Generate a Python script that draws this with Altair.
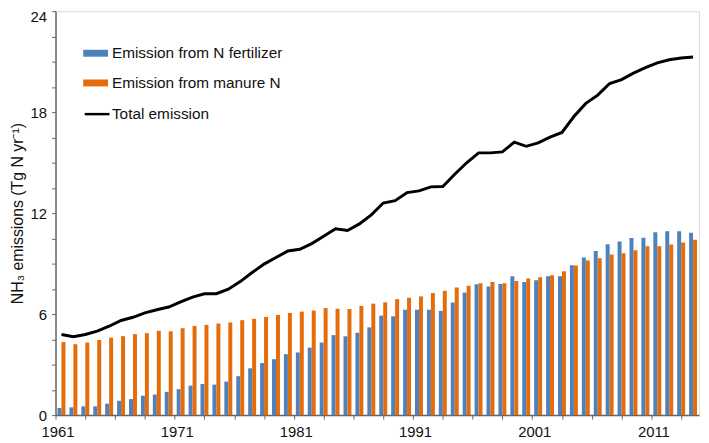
import altair as alt
import pandas as pd

years = list(range(1961, 2015))

fertilizer = [
    0.42, 0.46, 0.52, 0.52, 0.68, 0.85, 0.95, 1.15, 1.22, 1.38,
    1.54, 1.75, 1.85, 1.81, 1.99, 2.31, 2.78, 3.09, 3.32, 3.62,
    3.72, 4.01, 4.31, 4.75, 4.68, 4.89, 5.21, 5.91, 5.87, 6.26,
    6.26, 6.26, 6.19, 6.69, 7.28, 7.78, 7.64, 7.79, 8.25, 7.91,
    8.01, 8.25, 8.25, 8.91, 9.36, 9.75, 10.15, 10.31, 10.52, 10.54,
    10.87, 10.93, 10.93, 10.84,
]
manure = [
    4.34, 4.21, 4.31, 4.46, 4.60, 4.69, 4.81, 4.87, 5.01, 4.98,
    5.16, 5.30, 5.36, 5.44, 5.50, 5.64, 5.72, 5.83, 5.95, 6.07,
    6.15, 6.21, 6.36, 6.32, 6.30, 6.48, 6.62, 6.70, 6.89, 6.97,
    7.05, 7.25, 7.38, 7.58, 7.69, 7.84, 7.91, 7.83, 7.97, 8.11,
    8.19, 8.31, 8.54, 8.89, 9.19, 9.32, 9.54, 9.62, 9.79, 10.03,
    10.03, 10.13, 10.26, 10.42,
]
total = [
    4.79, 4.66, 4.79, 4.99, 5.28, 5.62, 5.81, 6.07, 6.26, 6.42,
    6.72, 7.01, 7.21, 7.21, 7.48, 7.93, 8.47, 8.97, 9.36, 9.75,
    9.85, 10.19, 10.62, 11.07, 10.97, 11.36, 11.90, 12.60, 12.74, 13.22,
    13.32, 13.56, 13.58, 14.31, 14.99, 15.58, 15.58, 15.64, 16.22, 15.97,
    16.17, 16.52, 16.79, 17.74, 18.52, 19.01, 19.70, 19.93, 20.32, 20.64,
    20.93, 21.11, 21.22, 21.28,
]

series_names = ["Emission from N fertilizer", "Emission from manure N"]
line_name = "Total emission"
bar_colors = ["#4F81BD", "#E46C0A"]

x_tick_values = [1961 + 2.5 * i for i in range(22)]
y_tick_values = [1.5 * i for i in range(17)]

bars_df = pd.DataFrame(
    {
        "year": years * 2,
        "value": fertilizer + manure,
        "series": [series_names[0]] * len(years) + [series_names[1]] * len(years),
        "slot": [0] * len(years) + [1] * len(years),
    }
)
line_df = pd.DataFrame({"year": years, "value": total, "series": [line_name] * len(years)})

FONT = "Liberation Sans"

x_scale = alt.Scale(domain=[1961, 2015], nice=False, zero=False)
y_scale = alt.Scale(domain=[0, 24], nice=False)

x_axis = alt.Axis(
    values=x_tick_values,
    labelExpr="(datum.value - 1961) % 10 == 0 ? format(datum.value, 'd') : ''",
    title=None,
    grid=False,
    tickSize=4,
    labelPadding=6,
    labelOffset=2,
    labelFlush=False,
    labelFontSize=15,
    labelColor="#111",
    domainColor="#666",
    domainWidth=1.5,
    tickColor="#666",
    labelFont=FONT,
    labelOverlap=False,
)
y_axis = alt.Axis(
    values=y_tick_values,
    labelExpr="datum.value % 6 == 0 ? format(datum.value, 'd') : ''",
    labelOffset={"condition": {"test": "datum.value == 24", "value": 5}, "value": 0},
    labelFlush=False,
    title="NH₃ emissions (Tg N yr⁻¹)",
    titleFontSize=16,
    titleFontWeight="normal",
    titleFont=FONT,
    titleColor="#111",
    titlePadding=5,
    grid=False,
    tickSize=4,
    labelPadding=5,
    labelFontSize=15,
    labelColor="#111",
    domainColor="#666",
    domainWidth=1.5,
    tickColor="#666",
    labelFont=FONT,
    labelOverlap=False,
)

bars = (
    alt.Chart(bars_df)
    .transform_calculate(
        x0="datum.year + 1/6 + datum.slot/3",
        x1="datum.year + 1/2 + datum.slot/3",
    )
    .mark_rect()
    .encode(
        x=alt.X("x0:Q", scale=x_scale, axis=x_axis),
        x2="x1:Q",
        y=alt.Y("value:Q", scale=y_scale, axis=y_axis),
        y2=alt.datum(0),
        fill=alt.Fill(
            "series:N",
            scale=alt.Scale(domain=series_names, range=bar_colors),
            legend=alt.Legend(
                title=None,
                orient="none",
                legendX=28,
                legendY=30,
                symbolType="M-1,-0.28H1V0.28H-1Z",
                symbolSize=625,
                symbolStrokeWidth=0,
                labelFontSize=15.5,
                labelFont=FONT,
                labelColor="#111",
                labelOffset=4,
                labelLimit=400,
                rowPadding=9,
                padding=0,
            ),
        ),
    )
)

line = (
    alt.Chart(line_df)
    .transform_calculate(xc="datum.year + 0.5")
    .mark_line(strokeWidth=3)
    .encode(
        x=alt.X("xc:Q", scale=x_scale, axis=x_axis),
        y=alt.Y("value:Q", scale=y_scale, axis=y_axis),
        stroke=alt.Stroke(
            "series:N",
            scale=alt.Scale(domain=[line_name], range=["#000000"]),
            legend=alt.Legend(
                title=None,
                orient="none",
                legendX=28,
                legendY=90,
                symbolType="stroke",
                symbolSize=625,
                symbolStrokeWidth=2.5,
                labelFontSize=15.5,
                labelFont=FONT,
                labelColor="#111",
                labelOffset=1,
                labelLimit=400,
                padding=0,
            ),
        ),
    )
)

chart = (
    alt.layer(bars, line)
    .properties(
        width=650,
        height=408,
        autosize=alt.AutoSizeParams(type="none"),
        padding={"left": 48, "top": 1, "right": 2, "bottom": 26},
    )
    .configure_view(stroke="#666", strokeWidth=1.5)
    .configure(background="white")
)

chart.save("out.html", embed_options={"renderer": "svg", "actions": False})
